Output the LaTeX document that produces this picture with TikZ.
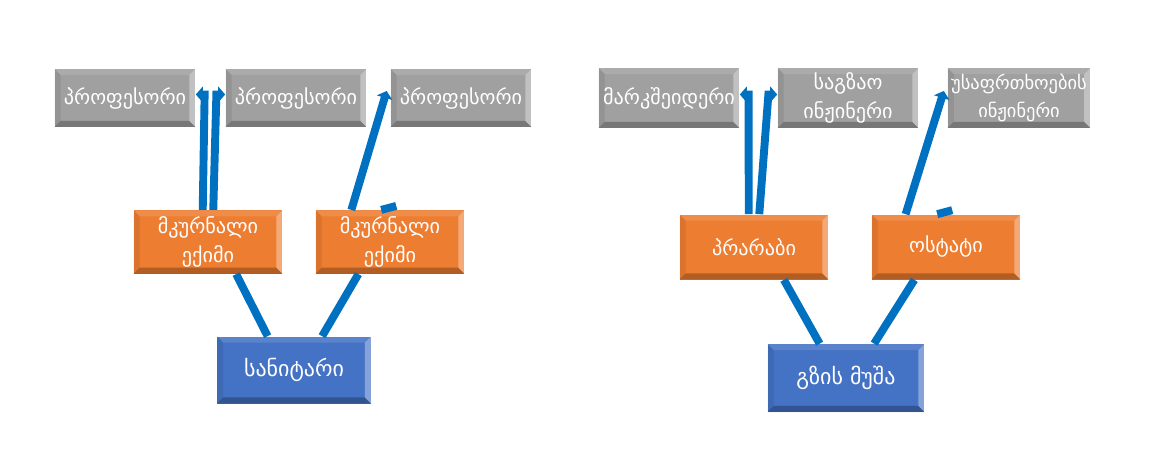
\documentclass[tikz,border=0pt]{standalone}
\usepackage{fontspec}
\setmainfont{DejaVu Sans}
\usepackage{tikz}
\usetikzlibrary{arrows.meta}
\definecolor{profgray}{HTML}{A0A0A0}
\definecolor{docorange}{HTML}{ED7D31}
\definecolor{staffblue}{HTML}{4472C4}
\definecolor{linkblue}{HTML}{0070C0}
\tikzstyle{bevel} = [rectangle, text=white, align=center, font=\fontsize{11.5}{16.5}\selectfont, inner sep=2pt,
  path picture={
    \fill[white,opacity=0.35] (path picture bounding box.north east) -- (path picture bounding box.south east) -- ([xshift=-3.5pt,yshift=3.5pt]path picture bounding box.south east) -- ([xshift=-3.5pt,yshift=-3.5pt]path picture bounding box.north east) -- cycle;
    \fill[white,opacity=0.12] (path picture bounding box.north west) -- (path picture bounding box.north east) -- ([xshift=-3.5pt,yshift=-3.5pt]path picture bounding box.north east) -- ([xshift=3.5pt,yshift=-3.5pt]path picture bounding box.north west) -- cycle;
    \fill[black,opacity=0.25] (path picture bounding box.south west) -- (path picture bounding box.south east) -- ([xshift=-3.5pt,yshift=3.5pt]path picture bounding box.south east) -- ([xshift=3.5pt,yshift=3.5pt]path picture bounding box.south west) -- cycle;
    \fill[black,opacity=0.08] (path picture bounding box.north west) -- (path picture bounding box.south west) -- ([xshift=3.5pt,yshift=3.5pt]path picture bounding box.south west) -- ([xshift=3.5pt,yshift=-3.5pt]path picture bounding box.north west) -- cycle;
  }]
\tikzstyle{topbox} = [bevel, minimum width=2.82cm, minimum height=1.16cm, fill=profgray]
\tikzstyle{midbox} = [bevel, minimum width=2.98cm, minimum height=1.27cm, fill=docorange]
\tikzstyle{basebox} = [bevel, minimum width=3.08cm, minimum height=1.34cm, fill=staffblue, font=\fontsize{12.5}{16.5}\selectfont]
\tikzstyle{link} = [line width=4.5pt, draw=linkblue]
\tikzstyle{tip} = [link, line join=miter, -{Triangle[length=4pt,width=9pt]}]

\begin{document}
\begin{tikzpicture}[x=0.02cm, y=-0.02cm]
		\useasboundingbox (0,0) rectangle (1173,474);
		% left tree
		\node (prof1) [topbox] at (125,98) {პროფესორი};
		\node (prof2) [topbox] at (296,98) {პროფესორი};
		\node (prof3) [topbox] at (461,98) {პროფესორი};
		\node (doc1) [midbox] at (208,242) {მკურნალი\\ექიმი};
		\node (doc2) [midbox] at (390,242) {მკურნალი\\ექიმი};
		\node (san) [basebox] at (294,370) {სანიტარი};
		
		% right tree
		\node (mark) [topbox, minimum height=1.2cm] at (669,98) {მარკშეიდერი};
		\node (road) [topbox, minimum height=1.2cm] at (848,98) {საგზაო\\ინჟინერი};
		\node (safe) [topbox, minimum height=1.2cm, font=\fontsize{10.5}{15.5}\selectfont] at (1019,98) {უსაფრთხოების\\ინჟინერი};
		\node (prar) [midbox, minimum height=1.3cm] at (754,247) {პრარაბი};
		\node (ost) [midbox, minimum height=1.3cm] at (946,247) {ოსტატი};
		\node (work) [basebox, minimum width=3.14cm, minimum height=1.36cm] at (846,378) {გზის მუშა};
		
		\draw [link] ([xshift=-15pt]san.north) -- ([xshift=16pt]doc1.south);
		\draw [link] ([xshift=16pt]san.north) -- ([xshift=-18pt]doc2.south);
		\draw [tip] ([xshift=-3pt]doc1.north) -- ([xshift=5pt,yshift=2pt]prof1.east) -- ([yshift=2pt]prof1.east);
		\draw [tip] ([xshift=3pt]doc1.north) -- ([xshift=-5pt,yshift=2pt]prof2.west) -- ([yshift=2pt]prof2.west);
		\draw [tip] ([xshift=-22pt]doc2.north) -- ([xshift=-2pt,yshift=4pt]prof3.west);
		\draw [link] ([xshift=-5pt]doc2.north) -- ++(15,-4);
		
		\draw [link] ([xshift=-15pt]work.north) -- ([xshift=17pt]prar.south);
		\draw [link] ([xshift=16pt]work.north) -- ([xshift=-18pt]ost.south);
		\draw [tip] ([xshift=-3pt]prar.north) -- ([xshift=5pt,yshift=2pt]mark.east) -- ([yshift=2pt]mark.east);
		\draw [tip] ([xshift=3pt]prar.north) -- ([xshift=-5pt,yshift=2pt]road.west) -- ([yshift=2pt]road.west);
		\draw [tip] ([xshift=-23pt]ost.north) -- ([xshift=-2pt,yshift=4pt]safe.west);
		\draw [link] ([xshift=-5pt]ost.north) -- ++(15,-4);
		\end{tikzpicture}
\end{document}
